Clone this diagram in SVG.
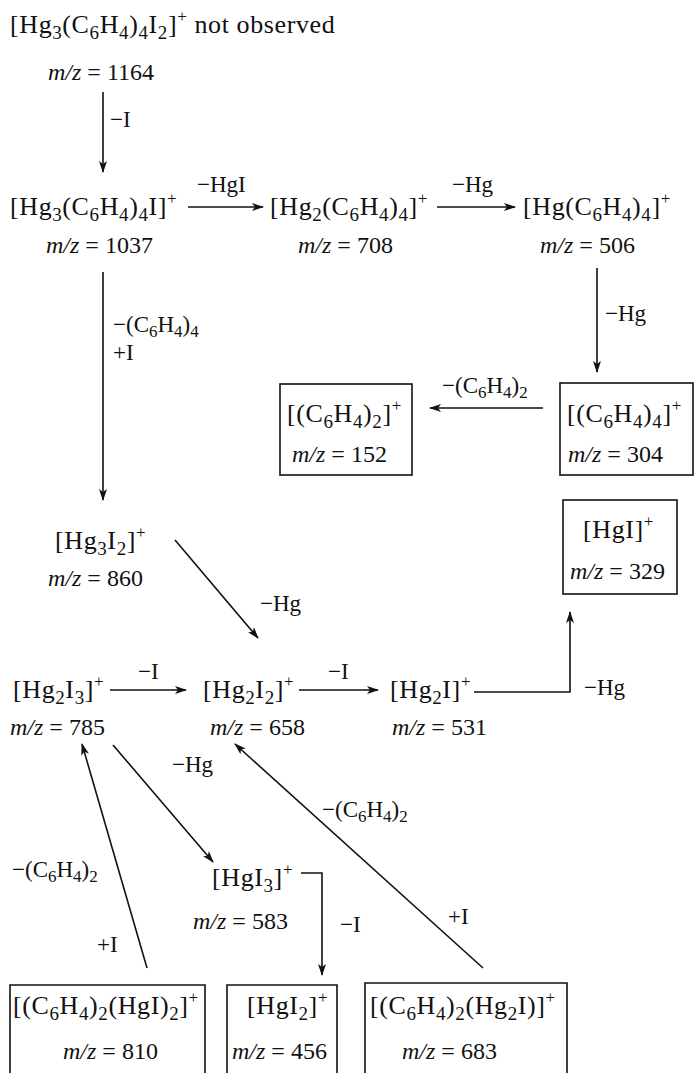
<svg xmlns="http://www.w3.org/2000/svg" width="695" height="1073" viewBox="0 0 695 1073">
<style>
text{font-family:"Liberation Serif","Times New Roman",serif;fill:#111}
.f{font-size:26px;letter-spacing:0.6px}
.s{font-size:19px}
.p{font-size:17px}
.m{font-size:24px}
.i{font-style:italic}
.l{font-size:23px}
.ls{font-size:17px}
.c{stroke:#111;stroke-width:1.6;fill:none}
.b{stroke:#111;stroke-width:1.6;fill:none}
</style>
<defs>
<marker id="ah" viewBox="0 0 12 8" refX="11" refY="4" markerWidth="12" markerHeight="8" orient="auto" markerUnits="userSpaceOnUse"><path d="M0,0 L12,4 L0,8 L3,4 z" fill="#111"/></marker>
</defs>
<rect width="695" height="1073" fill="#fff"/>

<g id="connectors">
<line class="c" x1="103" y1="92" x2="103" y2="172" marker-end="url(#ah)"/>
<text class="l" x="110" y="127">−I</text>
<line class="c" x1="188" y1="207" x2="263" y2="207" marker-end="url(#ah)"/>
<text class="l" x="197" y="192">−HgI</text>
<line class="c" x1="437" y1="207" x2="515" y2="207" marker-end="url(#ah)"/>
<text class="l" x="452" y="192">−Hg</text>
<line class="c" x1="103" y1="272" x2="103" y2="500" marker-end="url(#ah)"/>
<text class="l" x="113" y="332">−(C<tspan class="ls" dy="5">6</tspan><tspan dy="-5">H</tspan><tspan class="ls" dy="5">4</tspan><tspan dy="-5">)</tspan><tspan class="ls" dy="5">4</tspan></text>
<text class="l" x="113" y="360">+I</text>
<line class="c" x1="597" y1="268" x2="597" y2="372" marker-end="url(#ah)"/>
<text class="l" x="605" y="321">−Hg</text>
<line class="c" x1="543" y1="408" x2="430" y2="408" marker-end="url(#ah)"/>
<text class="l" x="442" y="393">−(C<tspan class="ls" dy="5">6</tspan><tspan dy="-5">H</tspan><tspan class="ls" dy="5">4</tspan><tspan dy="-5">)</tspan><tspan class="ls" dy="5">2</tspan></text>
<line class="c" x1="175" y1="540" x2="258" y2="638" marker-end="url(#ah)"/>
<text class="l" x="260" y="611">−Hg</text>
<line class="c" x1="110" y1="690" x2="186" y2="690" marker-end="url(#ah)"/>
<text class="l" x="138" y="679">−I</text>
<line class="c" x1="299" y1="690" x2="378" y2="690" marker-end="url(#ah)"/>
<text class="l" x="328" y="679">−I</text>
<polyline class="c" points="474,692 570,692 570,612" marker-end="url(#ah)"/>
<text class="l" x="584" y="695">−Hg</text>
<line class="c" x1="113" y1="745" x2="213" y2="862" marker-end="url(#ah)"/>
<text class="l" x="172" y="772">−Hg</text>
<polyline class="c" points="301,873 322,873 322,975" marker-end="url(#ah)"/>
<text class="l" x="340" y="932">−I</text>
<line class="c" x1="147" y1="968" x2="82" y2="744" marker-end="url(#ah)"/>
<text class="l" x="12" y="877">−(C<tspan class="ls" dy="5">6</tspan><tspan dy="-5">H</tspan><tspan class="ls" dy="5">4</tspan><tspan dy="-5">)</tspan><tspan class="ls" dy="5">2</tspan></text>
<text class="l" x="97" y="952">+I</text>
<line class="c" x1="483" y1="968" x2="235" y2="744" marker-end="url(#ah)"/>
<text class="l" x="322" y="817">−(C<tspan class="ls" dy="5">6</tspan><tspan dy="-5">H</tspan><tspan class="ls" dy="5">4</tspan><tspan dy="-5">)</tspan><tspan class="ls" dy="5">2</tspan></text>
<text class="l" x="448" y="924">+I</text>
</g>

<g id="n1">
<text class="f" x="10" y="33">[Hg<tspan class="s" dy="6">3</tspan><tspan dy="-6">(C</tspan><tspan class="s" dy="6">6</tspan><tspan dy="-6">H</tspan><tspan class="s" dy="6">4</tspan><tspan dy="-6">)</tspan><tspan class="s" dy="6">4</tspan><tspan dy="-6">I</tspan><tspan class="s" dy="6">2</tspan><tspan dy="-6">]</tspan><tspan class="p" dy="-11">+</tspan><tspan dy="11"> not observed</tspan></text>
<text class="m" x="48" y="80"><tspan class="i">m/z</tspan> = 1164</text>
</g>

<g id="n2">
<text class="f" x="10" y="215">[Hg<tspan class="s" dy="6">3</tspan><tspan dy="-6">(C</tspan><tspan class="s" dy="6">6</tspan><tspan dy="-6">H</tspan><tspan class="s" dy="6">4</tspan><tspan dy="-6">)</tspan><tspan class="s" dy="6">4</tspan><tspan dy="-6">I]</tspan><tspan class="p" dy="-11">+</tspan></text>
<text class="m" x="46" y="253"><tspan class="i">m/z</tspan> = 1037</text>
</g>

<g id="n3">
<text class="f" x="270" y="215">[Hg<tspan class="s" dy="6">2</tspan><tspan dy="-6">(C</tspan><tspan class="s" dy="6">6</tspan><tspan dy="-6">H</tspan><tspan class="s" dy="6">4</tspan><tspan dy="-6">)</tspan><tspan class="s" dy="6">4</tspan><tspan dy="-6">]</tspan><tspan class="p" dy="-11">+</tspan></text>
<text class="m" x="298" y="253"><tspan class="i">m/z</tspan> = 708</text>
</g>

<g id="n4">
<text class="f" x="523" y="215">[Hg(C<tspan class="s" dy="6">6</tspan><tspan dy="-6">H</tspan><tspan class="s" dy="6">4</tspan><tspan dy="-6">)</tspan><tspan class="s" dy="6">4</tspan><tspan dy="-6">]</tspan><tspan class="p" dy="-11">+</tspan></text>
<text class="m" x="540" y="253"><tspan class="i">m/z</tspan> = 506</text>
</g>

<g id="n5">
<rect class="b" x="280" y="384" width="132" height="91"/>
<text class="f" x="287" y="422">[(C<tspan class="s" dy="6">6</tspan><tspan dy="-6">H</tspan><tspan class="s" dy="6">4</tspan><tspan dy="-6">)</tspan><tspan class="s" dy="6">2</tspan><tspan dy="-6">]</tspan><tspan class="p" dy="-11">+</tspan></text>
<text class="m" x="292" y="462"><tspan class="i">m/z</tspan> = 152</text>
</g>

<g id="n6">
<rect class="b" x="560" y="383" width="133" height="92"/>
<text class="f" x="567" y="422">[(C<tspan class="s" dy="6">6</tspan><tspan dy="-6">H</tspan><tspan class="s" dy="6">4</tspan><tspan dy="-6">)</tspan><tspan class="s" dy="6">4</tspan><tspan dy="-6">]</tspan><tspan class="p" dy="-11">+</tspan></text>
<text class="m" x="568" y="462"><tspan class="i">m/z</tspan> = 304</text>
</g>

<g id="n7">
<text class="f" x="55" y="549">[Hg<tspan class="s" dy="6">3</tspan><tspan dy="-6">I</tspan><tspan class="s" dy="6">2</tspan><tspan dy="-6">]</tspan><tspan class="p" dy="-11">+</tspan></text>
<text class="m" x="48" y="586"><tspan class="i">m/z</tspan> = 860</text>
</g>

<g id="n8">
<rect class="b" x="563" y="500" width="114" height="94"/>
<text class="f" x="583" y="538">[HgI]<tspan class="p" dy="-11">+</tspan></text>
<text class="m" x="570" y="579"><tspan class="i">m/z</tspan> = 329</text>
</g>

<g id="n9">
<text class="f" x="13" y="698">[Hg<tspan class="s" dy="6">2</tspan><tspan dy="-6">I</tspan><tspan class="s" dy="6">3</tspan><tspan dy="-6">]</tspan><tspan class="p" dy="-11">+</tspan></text>
<text class="m" x="10" y="735"><tspan class="i">m/z</tspan> = 785</text>
</g>

<g id="n10">
<text class="f" x="203" y="698">[Hg<tspan class="s" dy="6">2</tspan><tspan dy="-6">I</tspan><tspan class="s" dy="6">2</tspan><tspan dy="-6">]</tspan><tspan class="p" dy="-11">+</tspan></text>
<text class="m" x="210" y="735"><tspan class="i">m/z</tspan> = 658</text>
</g>

<g id="n11">
<text class="f" x="390" y="698">[Hg<tspan class="s" dy="6">2</tspan><tspan dy="-6">I]</tspan><tspan class="p" dy="-11">+</tspan></text>
<text class="m" x="392" y="735"><tspan class="i">m/z</tspan> = 531</text>
</g>

<g id="n12">
<text class="f" x="212" y="886">[HgI<tspan class="s" dy="6">3</tspan><tspan dy="-6">]</tspan><tspan class="p" dy="-11">+</tspan></text>
<text class="m" x="193" y="929"><tspan class="i">m/z</tspan> = 583</text>
</g>

<g id="n13">
<path class="b" d="M10,1080 V985 H205 V1080"/>
<text class="f" x="13" y="1014">[(C<tspan class="s" dy="6">6</tspan><tspan dy="-6">H</tspan><tspan class="s" dy="6">4</tspan><tspan dy="-6">)</tspan><tspan class="s" dy="6">2</tspan><tspan dy="-6">(HgI)</tspan><tspan class="s" dy="6">2</tspan><tspan dy="-6">]</tspan><tspan class="p" dy="-11">+</tspan></text>
<text class="m" x="63" y="1059"><tspan class="i">m/z</tspan> = 810</text>
</g>

<g id="n14">
<path class="b" d="M227,1080 V985 H337 V1080"/>
<text class="f" x="247" y="1014">[HgI<tspan class="s" dy="6">2</tspan><tspan dy="-6">]</tspan><tspan class="p" dy="-11">+</tspan></text>
<text class="m" x="232" y="1059"><tspan class="i">m/z</tspan> = 456</text>
</g>

<g id="n15">
<path class="b" d="M365,1080 V983 H567 V1080"/>
<text class="f" x="370" y="1014">[(C<tspan class="s" dy="6">6</tspan><tspan dy="-6">H</tspan><tspan class="s" dy="6">4</tspan><tspan dy="-6">)</tspan><tspan class="s" dy="6">2</tspan><tspan dy="-6">(Hg</tspan><tspan class="s" dy="6">2</tspan><tspan dy="-6">I)]</tspan><tspan class="p" dy="-11">+</tspan></text>
<text class="m" x="402" y="1059"><tspan class="i">m/z</tspan> = 683</text>
</g>
</svg>
